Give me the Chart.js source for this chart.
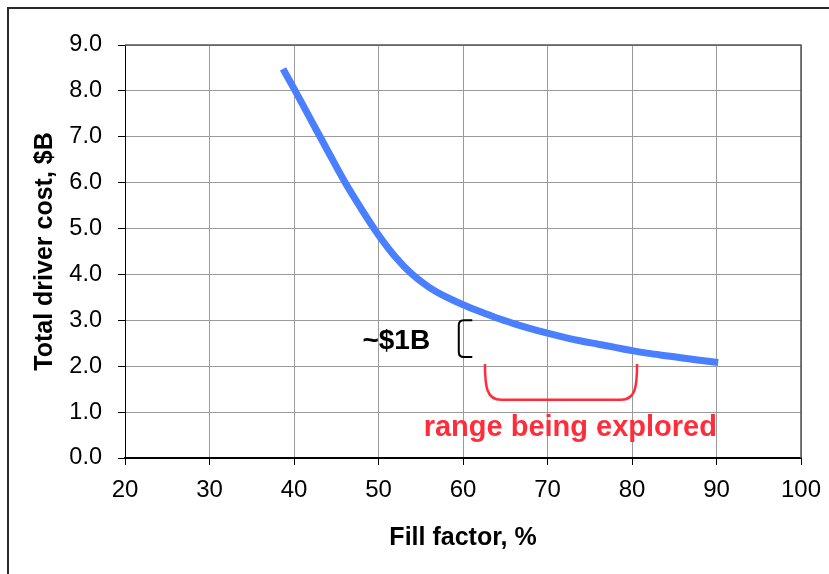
<!DOCTYPE html>
<html>
<head>
<meta charset="utf-8">
<script src="https://cdn.jsdelivr.net/npm/chart.js@4.4.1/dist/chart.umd.min.js"></script>
<style>
  html, body { margin: 0; padding: 0; background: #fff; overflow: hidden; }
  #wrap { position: relative; width: 829px; height: 574px; }
  #frame { position: absolute; left: 7px; top: 7px; width: 900px; height: 700px; border: 2px solid #2a2a2a; box-sizing: border-box; pointer-events: none; }
  canvas { position: absolute; left: 0; top: 0; }
</style>
</head>
<body>
<div id="wrap">
  <canvas id="c" width="829" height="574"></canvas>
  <div id="frame"></div>
</div>
<script>
// ---- data ----
const fillFactor = [38.7, 40, 42, 44, 46, 48, 50, 52, 54, 56, 58, 60, 62, 64, 66, 68, 70, 72, 74, 76, 78, 80, 82, 84, 86, 88, 90.2];
const driverCost = [8.48, 8.05, 7.37, 6.69, 6.02, 5.42, 4.86, 4.38, 4.0, 3.72, 3.51, 3.34, 3.19, 3.05, 2.93, 2.82, 2.72, 2.63, 2.55, 2.48, 2.41, 2.34, 2.28, 2.23, 2.18, 2.13, 2.08];
const xTickValues = [20, 30, 40, 50, 60, 70, 80, 90, 100];
const yTickLabels = ['0.0', '1.0', '2.0', '3.0', '4.0', '5.0', '6.0', '7.0', '8.0', '9.0'];
const xTitle = 'Fill factor, %';
const yTitle = 'Total driver cost, $B';
// annotations (in data units)
const savingText = '~$1B';
const savingAnchor = [52.1, 2.55];
const savingBracket = [59.5, 61.1, 3.0, 2.2];       // xLeft, xRight, yTop, yBottom
const rangeText = 'range being explored';
const rangeAnchor = [72.7, 0.66];
const rangeBracket = [62.6, 80.6, 2.05, 1.27];      // xLeft, xRight, yTop, yBottom

const FONT = "'Liberation Sans', Arial, Helvetica, sans-serif";

const annotations = {
  id: 'annotations',
  afterDatasetsDraw(chart) {
    const {ctx, chartArea: a, scales: {x, y}} = chart;
    ctx.save();
    // plot area top/right edges
    ctx.strokeStyle = '#555';
    ctx.lineWidth = 1.5;
    ctx.beginPath();
    ctx.moveTo(a.left, a.top);
    ctx.lineTo(a.right, a.top);
    ctx.lineTo(a.right, a.bottom);
    ctx.stroke();

    // black bracket
    let xl = x.getPixelForValue(savingBracket[0]);
    let xr = x.getPixelForValue(savingBracket[1]);
    let yt = y.getPixelForValue(savingBracket[2]);
    let yb = y.getPixelForValue(savingBracket[3]);
    let r = 5;
    ctx.strokeStyle = '#000';
    ctx.lineWidth = 2;
    ctx.beginPath();
    ctx.moveTo(xr, yt);
    ctx.lineTo(xl + r, yt);
    ctx.quadraticCurveTo(xl, yt, xl, yt + r);
    ctx.lineTo(xl, yb - r);
    ctx.quadraticCurveTo(xl, yb, xl + r, yb);
    ctx.lineTo(xr, yb);
    ctx.stroke();

    // red bracket
    xl = x.getPixelForValue(rangeBracket[0]);
    xr = x.getPixelForValue(rangeBracket[1]);
    yt = y.getPixelForValue(rangeBracket[2]);
    yb = y.getPixelForValue(rangeBracket[3]);
    r = 12;
    ctx.strokeStyle = '#ff2d3c';
    ctx.lineWidth = 2.5;
    ctx.beginPath();
    ctx.moveTo(xl, yt);
    ctx.bezierCurveTo(xl, yb - r, xl + 2, yb, xl + r + 4, yb);
    ctx.lineTo(xr - r - 4, yb);
    ctx.bezierCurveTo(xr - 2, yb, xr, yb - r, xr, yt);
    ctx.stroke();

    // texts
    ctx.textAlign = 'center';
    ctx.textBaseline = 'middle';
    ctx.fillStyle = '#000';
    ctx.font = "bold 28px " + FONT;
    ctx.fillText(savingText, x.getPixelForValue(savingAnchor[0]), y.getPixelForValue(savingAnchor[1]));
    ctx.fillStyle = '#ff2d3c';
    ctx.font = "bold 29px " + FONT;
    ctx.fillText(rangeText, x.getPixelForValue(rangeAnchor[0]), y.getPixelForValue(rangeAnchor[1]));
    ctx.restore();
  }
};

new Chart(document.getElementById('c'), {
  type: 'line',
  data: {
    datasets: [{
      data: fillFactor.map((v, i) => ({x: v, y: driverCost[i]})),
      borderColor: '#4a80ff',
      borderWidth: 7,
      borderCapStyle: 'butt',
      pointRadius: 0,
      fill: false,
      cubicInterpolationMode: 'monotone'
    }]
  },
  options: {
    responsive: false,
    animation: false,
    layout: { padding: { left: 0, right: 28, top: 45, bottom: 0 } },
    plugins: { legend: { display: false }, tooltip: { enabled: false } },
    scales: {
      x: {
        type: 'linear',
        min: 20, max: 100,
        afterBuildTicks(s) { s.ticks = xTickValues.map(v => ({value: v})); },
        afterFit(s) { s.height = 116; s.paddingRight = 0; s.paddingLeft = 0; },
        grid: { color: '#9b9b9b', lineWidth: 1, tickLength: 7, tickColor: '#000' },
        border: { color: '#000', width: 2 },
        ticks: { color: '#000', font: { family: FONT, size: 24 }, padding: 11, maxRotation: 0, autoSkip: false },
        title: { display: true, text: xTitle, color: '#000', font: { family: FONT, size: 25, weight: 'bold' }, padding: { top: 0, bottom: 21 } }
      },
      y: {
        type: 'linear',
        min: 0, max: 9,
        ticks: {
          stepSize: 1, color: '#000', font: { family: FONT, size: 23.5 }, padding: 16,
          callback: (v) => yTickLabels[Math.round(v)]
        },
        afterFit(s) { s.width = 125; s.paddingTop = 0; s.paddingBottom = 0; },
        grid: { color: '#9b9b9b', lineWidth: 1, tickLength: 7, tickColor: '#000' },
        border: { color: '#000', width: 1 },
        title: { display: true, text: yTitle, color: '#000', font: { family: FONT, size: 25, weight: 'bold' }, padding: { top: 30, bottom: 0 } }
      }
    }
  },
  plugins: [annotations]
});
</script>
</body>
</html>
